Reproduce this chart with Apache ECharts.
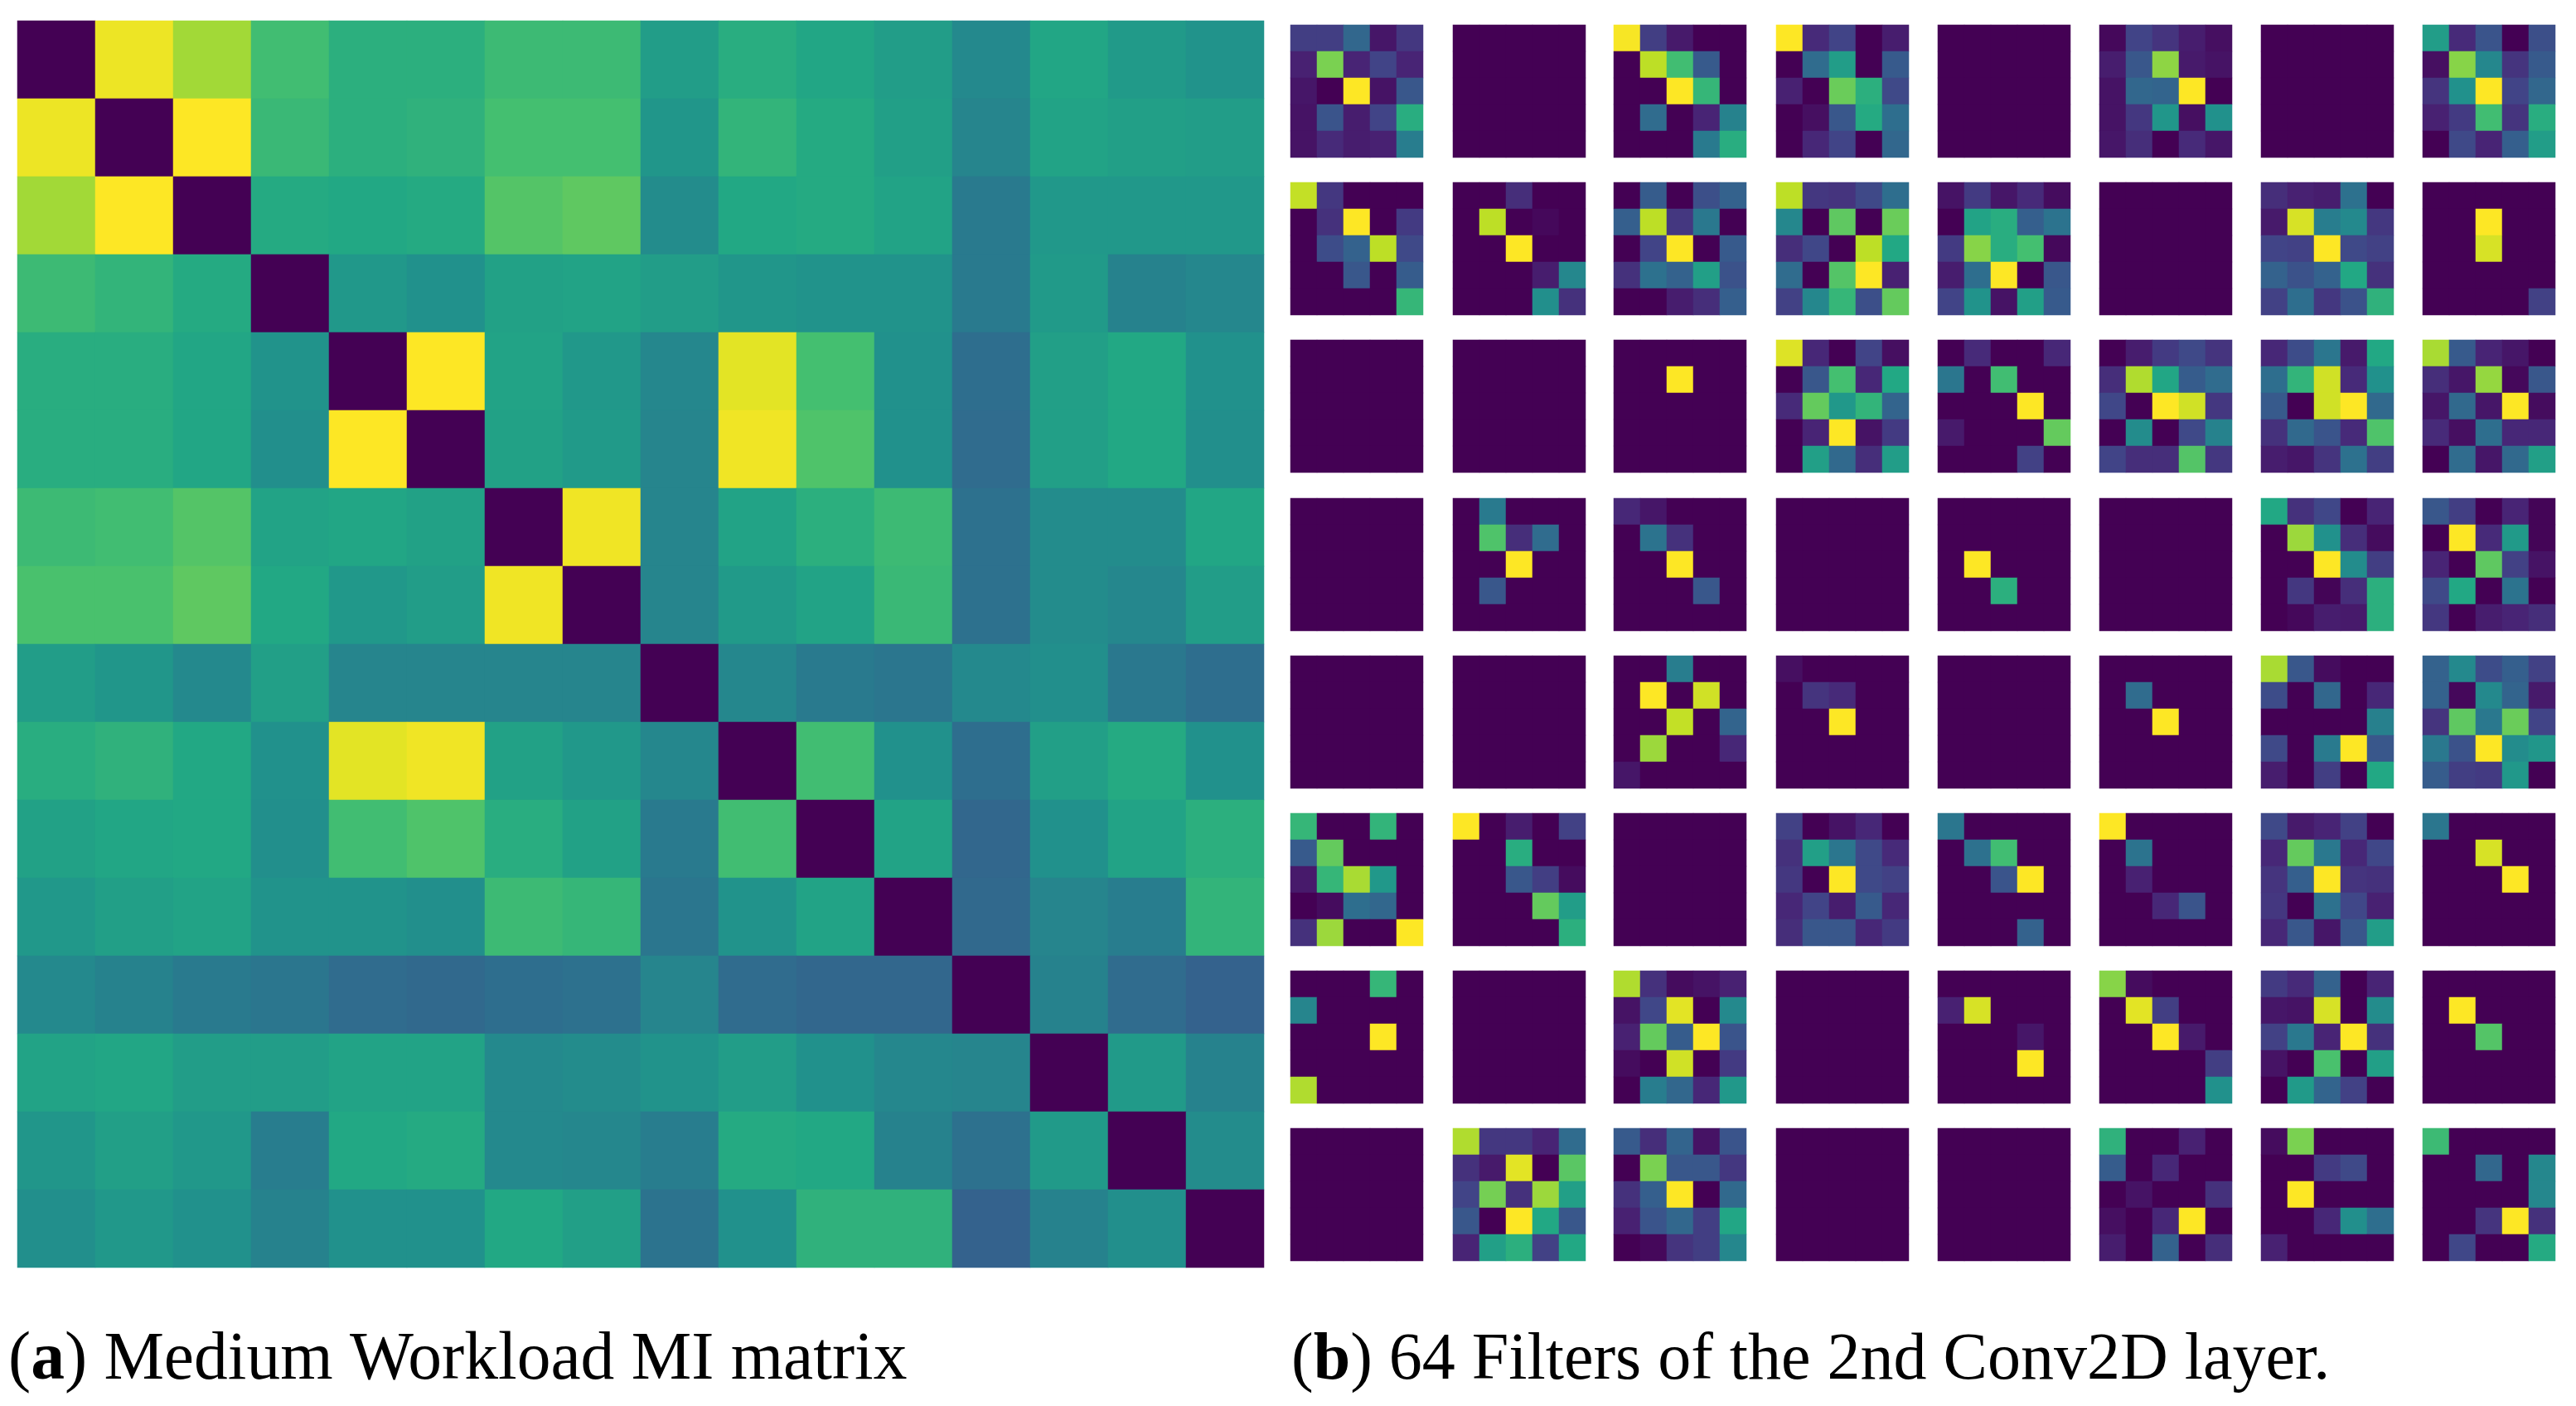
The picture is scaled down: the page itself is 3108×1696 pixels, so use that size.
<!DOCTYPE html>
<html><head><meta charset="utf-8">
<style>html,body{margin:0;padding:0;background:#fff}#c{width:3108px;height:1696px}</style>
<script src="https://cdn.jsdelivr.net/npm/echarts@6/dist/echarts.min.js"></script>
</head><body><div id="c"></div>
<script>
const captionA = ['a', ') Medium Workload MI matrix'];
const captionB = ['b', ') 64 Filters of the 2nd Conv2D layer.'];
const viridis = ['#440154','#482475','#414487','#355f8d','#2a788e','#21918c','#22a884','#44bf70','#7ad151','#bddf26','#fde725'];
const miMatrix = [
[0,.975,.86,.69,.63,.63,.68,.68,.55,.62,.59,.55,.47,.59,.54,.51],
[.975,0,1,.67,.63,.64,.70,.70,.52,.65,.61,.56,.45,.58,.56,.55],
[.86,1,0,.61,.60,.61,.73,.75,.48,.60,.61,.58,.41,.53,.53,.53],
[.68,.65,.61,0,.53,.50,.57,.58,.55,.52,.51,.51,.41,.54,.44,.46],
[.62,.62,.59,.51,0,1,.58,.53,.46,.96,.70,.50,.36,.56,.60,.50],
[.62,.62,.59,.49,1,0,.57,.54,.45,.98,.72,.50,.35,.56,.60,.49],
[.68,.69,.73,.58,.59,.57,0,.98,.45,.58,.63,.68,.37,.48,.48,.59],
[.71,.71,.75,.60,.53,.55,.98,0,.45,.54,.58,.67,.37,.48,.46,.55],
[.55,.52,.47,.56,.45,.45,.45,.45,0,.46,.41,.39,.47,.49,.40,.36],
[.62,.64,.60,.50,.96,.98,.57,.53,.46,0,.69,.50,.36,.56,.61,.50],
[.57,.59,.60,.49,.69,.72,.62,.57,.41,.69,0,.58,.33,.50,.58,.63],
[.53,.56,.58,.51,.51,.49,.68,.66,.39,.51,.58,0,.34,.45,.42,.65],
[.47,.44,.41,.39,.35,.34,.36,.37,.45,.35,.33,.33,0,.44,.35,.31],
[.58,.59,.55,.55,.58,.58,.47,.48,.51,.55,.50,.46,.45,0,.54,.44],
[.52,.56,.53,.42,.60,.61,.47,.46,.42,.61,.60,.44,.37,.54,0,.48],
[.49,.53,.50,.44,.50,.50,.60,.56,.38,.50,.64,.64,.31,.44,.49,0]
];
const blank = [[0,0,0,0,0],[0,0,0,0,0],[0,0,0,0,0],[0,0,0,0,0],[0,0,0,0,0]];
const filterRow1 = [
[[.18,.18,.33,.06,.16],[.09,.80,.10,.20,.10],[.06,0,1,.05,.27],[.05,.26,.08,.20,.62],[.05,.12,.08,.09,.42]],
blank,
[[.99,.18,.07,0,0],[0,.90,.69,.28,0],[0,0,1,.66,0],[0,.35,0,.10,.44],[0,0,0,.41,.62]],
[[1,.12,.20,0,.08],[0,.35,.55,0,.28],[.09,0,.77,.63,.22],[0,.04,.27,.61,.36],[0,.11,.20,0,.33]],
blank,
[[.02,.20,.15,.08,.04],[.08,.27,.83,.07,.05],[.05,.33,.32,1,0],[.05,.16,.52,.04,.50],[.06,.13,0,.12,.06]],
blank,
[[.55,.12,.26,0,.24],[.04,.82,.46,.15,.28],[.15,.50,1,.20,.33],[.09,.17,.69,.15,.62],[0,.22,.10,.30,.55]]
];
const filterRow2 = [
[[.91,.16,0,0,0],[0,.14,1,0,.17],[0,.23,.31,.90,.22],[0,0,.27,0,.29],[0,0,0,0,.66]],
[[0,0,.13,0,0],[0,.90,0,.02,0],[0,0,1,0,0],[0,0,0,.08,.46],[0,0,0,.49,.14]],
[[0,.29,0,.24,.31],[.30,.90,.16,.40,0],[0,.20,1,0,.28],[.14,.37,.31,.56,.25],[0,0,.08,.13,.30]],
[[.90,.16,.15,.22,.36],[.46,0,.75,0,.77],[.13,.21,0,.90,.60],[.35,0,.73,1,.09],[.19,.46,.66,.24,.76]],
[[.05,.17,.06,.12,.03],[0,.58,.62,.30,.38],[.17,.82,.62,.70,.02],[.08,.36,1,0,.27],[.20,.51,.05,.56,.28]],
blank,
[[.13,.09,.08,.37,0],[.07,.94,.42,.47,.16],[.20,.19,1,.22,.19],[.31,.25,.31,.60,.14],[.19,.36,.16,.25,.64]],
[[0,0,0,0,0],[0,0,1,0,0],[0,0,.94,0,0],[0,0,0,0,0],[0,0,0,0,.19]]
];
const filterRow3 = [
blank,
blank,
[[0,0,0,0,0],[0,0,1,0,0],[0,0,0,0,0],[0,0,0,0,0],[0,0,0,0,0]],
[[.95,.11,0,.20,.04],[0,.27,.70,.11,.60],[.12,.76,.53,.65,.32],[0,.10,1,.05,.17],[0,.56,.34,.13,.55]],
[[0,.12,0,0,.11],[.39,0,.69,0,0],[0,0,0,1,0],[.07,0,0,0,.76],[0,0,0,.19,0]],
[[0,.08,.17,.22,.15],[.13,.88,.59,.29,.35],[.21,0,1,.93,.16],[0,.48,0,.22,.44],[.20,.13,.13,.73,.16]],
[[.11,.23,.39,.07,.60],[.36,.65,.93,.12,.50],[.28,0,.93,1,.34],[.14,.34,.26,.12,.72],[.08,.06,.15,.37,.18]],
[[.87,.28,.10,.06,0],[.13,.06,.84,.02,.27],[.06,.34,.06,1,.03],[.12,.04,.36,.11,.11],[0,.35,.06,.34,.56]]
];
const filterRow4 = [
blank,
[[0,.41,0,0,0],[0,.72,.13,.35,0],[0,0,1,0,0],[0,.27,0,0,0],[0,0,0,0,0]],
[[.11,.06,0,0,0],[0,.38,.14,0,0],[0,0,1,0,0],[0,0,0,.27,0],[0,0,0,0,0]],
blank,
[[0,0,0,0,0],[0,0,0,0,0],[0,1,0,0,0],[0,0,.63,0,0],[0,0,0,0,0]],
blank,
[[.60,.14,.21,0,.10],[0,.85,.50,.13,.03],[0,0,1,.48,.18],[0,.16,.01,.13,.63],[0,.02,.08,.07,.63]],
[[.27,.18,0,.10,.01],[0,1,.12,.54,.01],[.10,0,.75,.19,.05],[.22,.60,0,.38,0],[.16,0,.08,.10,.13]]
];
const filterRow5 = [
blank,
blank,
[[0,0,.42,0,0],[0,1,0,.93,0],[0,0,.91,0,.32],[0,.85,0,0,.11],[.06,0,0,0,0]],
[[.04,0,0,0,0],[0,.15,.12,0,0],[0,0,1,0,0],[0,0,0,0,0],[0,0,0,0,0]],
blank,
[[0,0,0,0,0],[0,.35,0,0,0],[0,0,1,0,0],[0,0,0,0,0],[0,0,0,0,0]],
[[.87,.27,.03,0,0],[.23,0,.33,0,.11],[0,0,0,0,.43],[.22,0,.41,1,.27],[.08,0,.18,0,.60]],
[[.31,.47,.23,.30,.19],[.31,.02,.47,.32,.07],[.15,.75,.40,.77,.20],[.40,.25,1,.48,.52],[.29,.18,.17,.53,0]]
];
const filterRow6 = [
[[.66,0,0,.65,0],[.28,.76,0,0,0],[.07,.66,.87,.53,0],[0,.03,.36,.33,0],[.14,.85,0,0,1]],
[[1,0,.08,0,.19],[0,0,.62,0,0],[0,0,.27,.18,.03],[0,0,0,.76,.55],[0,0,0,0,.63]],
blank,
[[.19,0,.05,.11,0],[.14,.56,.39,.22,.12],[.16,0,1,.22,.19],[.11,.20,.08,.28,.11],[.13,.27,.27,.11,.17]],
[[.39,0,0,0,0],[0,.37,.69,0,0],[0,0,.26,1,0],[0,0,0,0,0],[0,0,0,.31,0]],
[[1,0,0,0,0],[0,.38,0,0,0],[0,.09,0,0,0],[0,0,.11,.26,0],[0,0,0,0,0]],
[[.22,.07,.10,.19,0],[.11,.76,.40,.11,.21],[.15,.30,1,.15,.14],[.16,0,.37,.21,.09],[.11,.27,.06,.27,.55]],
[[.39,0,0,0,0],[0,0,.94,0,0],[0,0,0,1,0],[0,0,0,0,0],[0,0,0,0,0]]
];
const filterRow7 = [
[[0,0,0,.66,0],[.45,0,0,0,0],[0,0,0,1,0],[0,0,0,0,0],[.88,0,0,0,0]],
blank,
[[.88,.14,.03,.05,.09],[.05,.21,.96,0,.47],[.09,.76,.29,1,.26],[.03,0,.93,0,.17],[0,.42,.33,.11,.53]],
blank,
[[0,0,0,0,0],[.09,.94,0,0,0],[0,0,0,.06,0],[0,0,0,1,0],[0,0,0,0,0]],
[[.82,.03,0,0,0],[0,.96,.18,0,0],[0,0,1,.07,0],[0,0,0,0,.18],[0,0,0,0,.50]],
[[.17,.12,.31,0,.10],[.06,.05,.94,0,.48],[.19,.40,.10,1,.14],[.05,0,.71,0,.56],[0,.54,.32,.19,0]],
[[0,0,0,0,0],[0,1,0,0,0],[0,0,.73,0,0],[0,0,0,0,0],[0,0,0,0,0]]
];
const filterRow8 = [
blank,
[[.88,.16,.16,.10,.35],[.14,.07,.96,0,.74],[.20,.79,.14,.85,.56],[.27,0,1,.60,.27],[.10,.56,.63,.19,.60]],
[[.28,.13,.32,.05,.26],[0,.80,.27,.27,.16],[.14,.30,1,0,.34],[.09,.26,.33,.18,.59],[0,.02,.15,.18,.46]],
blank,
blank,
[[.64,0,0,.09,0],[.29,0,.11,0,0],[0,.05,0,0,.14],[.04,0,.11,1,0],[.08,0,.31,0,.13]],
[[.03,.80,0,0,0],[0,0,.17,.22,0],[0,1,0,0,0],[0,0,.11,.49,.36],[.09,0,0,0,0]],
[[.68,0,0,0,0],[0,0,.33,0,.46],[0,0,0,0,.46],[0,0,.15,1,.14],[0,.21,0,0,.61]]
];
const filterRows = [filterRow1,filterRow2,filterRow3,filterRow4,filterRow5,filterRow6,filterRow7,filterRow8];

const grid = [], xAxis = [], yAxis = [], series = [];
function addPanel(matrix, left, top, width, height) {
  const i = grid.length, cats = matrix.map((_, k) => String(k));
  const hide = { axisLine:{show:false}, axisTick:{show:false}, axisLabel:{show:false}, splitLine:{show:false}, splitArea:{show:false} };
  grid.push({ left, top, width, height, containLabel:false, show:false });
  xAxis.push(Object.assign({ type:'category', gridIndex:i, data:cats }, hide));
  yAxis.push(Object.assign({ type:'category', gridIndex:i, data:cats, inverse:true }, hide));
  const data = [];
  matrix.forEach((row, y) => row.forEach((v, x) => data.push([x, y, v])));
  series.push({ type:'heatmap', xAxisIndex:i, yAxisIndex:i, data, silent:true, progressive:0, itemStyle:{borderWidth:0}, emphasis:{disabled:true} });
}
addPanel(miMatrix, 21, 25, 1504, 1504);
const colLefts = [1557,1753,1947,2143,2338,2533,2728,2923];
const rowTops = [30,220,410,601,791,981,1171,1361];
filterRows.forEach((row, r) => row.forEach((m, c) => addPanel(m, colLefts[c], rowTops[r], 160, 160)));

function cap(c, left, top, fontSize) {
  const font = { fontFamily:'Liberation Serif', fontSize, color:'#000', fontWeight:'normal' };
  const textStyle = Object.assign({}, font, { rich:{ p:font, b:Object.assign({}, font, { fontWeight:'bold' }) } });
  return { left, top, padding:0, text:`{p|(}{b|${c[0]}}{p|${c[1]}}`, textStyle };
}

const chart = echarts.init(document.getElementById('c'), null, { renderer:'canvas' });
chart.setOption({
  animation:false, backgroundColor:'#fff',
  title:[cap(captionA, 10, 1601, 81.5), cap(captionB, 1558, 1602, 80)],
  visualMap:{ show:false, type:'continuous', min:0, max:1, dimension:2, inRange:{ color:viridis } },
  grid, xAxis, yAxis, series
});
</script></body></html>
